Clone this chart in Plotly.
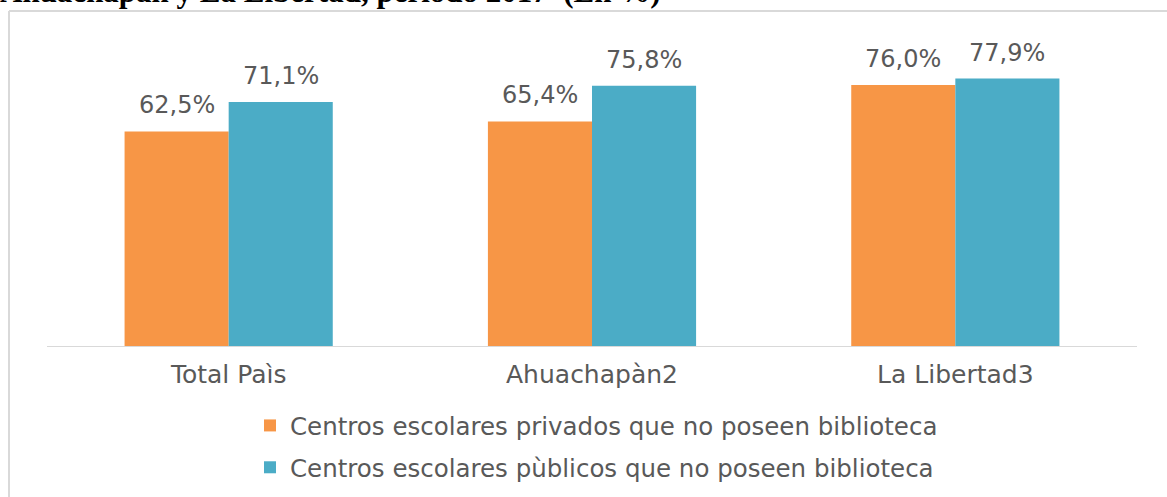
import plotly.graph_objects as go

categories = ["Total Paìs", "Ahuachapàn2", "La Libertad3"]
privados = [62.5, 65.4, 76.0]
publicos = [71.1, 75.8, 77.9]
series_names = [
    "Centros escolares privados que no poseen biblioteca",
    "Centros escolares pùblicos que no poseen biblioteca",
]
title_text = "Ahuachapán y La Libertad, período 2017  (En %)"

ORANGE = "#F79646"
BLUE = "#4BACC6"
TXT = "#595959"
FONT = "DejaVu Sans"

def fmt(v):
    return f"{v:.1f}".replace(".", ",") + "%"

fig = go.Figure()
fig.add_trace(go.Bar(x=categories, y=privados, name=series_names[0],
                     marker=dict(color=ORANGE, line=dict(width=0)),
                     legendgroup="a"))
fig.add_trace(go.Bar(x=categories, y=publicos, name=series_names[1],
                     marker=dict(color=BLUE, line=dict(width=0)),
                     legendgroup="b"))

W, H = 1167, 497
L, R, T, B = 47, 30, 37, 151
pw, ph = W - L - R, H - T - B
def px_x(x):
    return (x - L) / pw
def px_y(y):
    return (H - B - y) / ph

annotations = []
for vals, shift in ((privados, -52), (publicos, 52)):
    for c, v in zip(categories, vals):
        annotations.append(dict(x=c, y=v, xref="x", yref="y", text=fmt(v),
                                showarrow=False, xshift=shift, yshift=10,
                                yanchor="bottom", xanchor="center",
                                font=dict(family=FONT, size=24, color=TXT)))
annotations.append(dict(x=px_x(0), y=px_y(0), xref="paper", yref="paper",
                        text="<b>" + title_text + "</b>",
                        showarrow=False, xanchor="left", yanchor="bottom",
                        yshift=-11, xshift=-2,
                        font=dict(family="Liberation Serif", size=31, color="#000000")))

shapes = [
    dict(type="line", xref="paper", yref="paper", x0=px_x(9), x1=px_x(1200),
         y0=px_y(11), y1=px_y(11), line=dict(color="#D9D9D9", width=2)),
    dict(type="line", xref="paper", yref="paper", x0=px_x(9), x1=px_x(9),
         y0=px_y(11), y1=px_y(520), line=dict(color="#D9D9D9", width=2)),
]

fig.update_layout(
    width=W, height=H,
    margin=dict(l=L, r=R, t=T, b=B, autoexpand=False),
    paper_bgcolor="white", plot_bgcolor="white",
    barmode="group", bargap=0.427, bargroupgap=0,
    font=dict(family=FONT, size=24, color=TXT),
    showlegend=True,
    legend=dict(orientation="v", xref="container", yref="container",
                x=250 / W, y=1 - 403 / H, xanchor="left", yanchor="top",
                font=dict(family=FONT, size=24.5, color=TXT),
                tracegroupgap=7, traceorder="grouped",
                bgcolor="rgba(0,0,0,0)"),
    xaxis=dict(showline=True, linecolor="#D9D9D9", linewidth=1, ticks="",
               showgrid=False, zeroline=False, tickangle=0, automargin=False,
               ticklabelstandoff=6,
               tickfont=dict(family=FONT, size=25, color=TXT)),
    yaxis=dict(range=[0, 90], visible=False, showgrid=False, zeroline=False,
               automargin=False),
    annotations=annotations,
    shapes=shapes,
)

fig.write_html("out.html", config={"displayModeBar": False},
               post_script="document.body.style.margin='0px';")
